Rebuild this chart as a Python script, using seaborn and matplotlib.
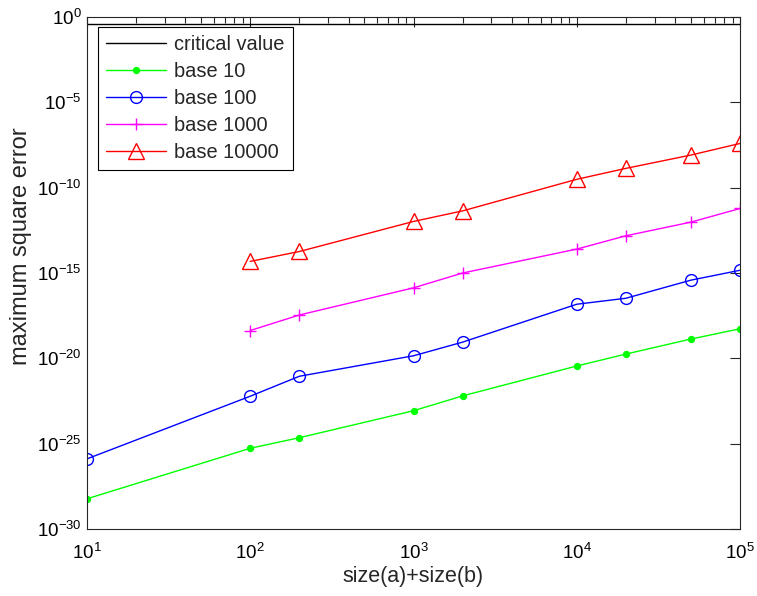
import numpy as np
import pandas as pd
import matplotlib
matplotlib.use("Agg")
import matplotlib.pyplot as plt
import matplotlib.ticker as mticker
import seaborn as sns

# ---- data ----
x_all = [10, 100, 200, 1000, 2000, 10000, 20000, 50000, 100000]
x_big = [100, 200, 1000, 2000, 10000, 20000, 50000, 100000]
critical_x = [10, 100000]
critical_value = [0.4, 0.4]
log_base10 = [-28.23, -25.27, -24.65, -23.07, -22.2, -20.45, -19.75, -18.87, -18.27]
log_base100 = [-25.89, -22.22, -21.05, -19.85, -19.05, -16.83, -16.48, -15.42, -14.84]
log_base1000 = [-18.37, -17.46, -15.87, -15.0, -13.6, -12.82, -12.02, -11.22]
log_base10000 = [-14.32, -13.74, -11.98, -11.36, -9.51, -8.87, -8.09, -7.41]
labels = ["critical value", "base 10", "base 100", "base 1000", "base 10000"]
xlabel = "size(a)+size(b)"
ylabel = "maximum square error"

sns.set_theme(style="white")
plt.rcParams["font.family"] = ["Liberation Sans", "DejaVu Sans"]
plt.rcParams["mathtext.fontset"] = "custom"
plt.rcParams["mathtext.rm"] = "Liberation Sans"
plt.rcParams["mathtext.it"] = "Liberation Sans:italic"
plt.rcParams["mathtext.bf"] = "Liberation Sans:bold"

W, H = 757, 596
L, R, T, B = 87, 740, 17, 529
fig = plt.figure(figsize=(W / 100, H / 100), dpi=100)
ax = fig.add_axes([L / W, 1 - B / H, (R - L) / W, (B - T) / H])

series = [
    (critical_x, critical_value, dict(color="black", marker=None)),
    (x_all, list(10.0 ** np.array(log_base10)), dict(color=(0, 1, 0), marker="o", markersize=4.5,
                                                    markerfacecolor=(0, 1, 0), markeredgecolor=(0, 1, 0))),
    (x_all, list(10.0 ** np.array(log_base100)), dict(color=(0, 0, 1), marker="o", markersize=8.5,
                                                     markerfacecolor="none", markeredgecolor=(0, 0, 1),
                                                     markeredgewidth=1.0)),
    (x_big, list(10.0 ** np.array(log_base1000)), dict(color=(1, 0, 1), marker="+", markersize=9,
                                                      markeredgecolor=(1, 0, 1), markeredgewidth=1.0)),
    (x_big, list(10.0 ** np.array(log_base10000)), dict(color=(1, 0, 0), marker="^", markersize=11.5,
                                                       markerfacecolor="none", markeredgecolor=(1, 0, 0),
                                                       markeredgewidth=1.0)),
]
for (xs, ys, kw), lab in zip(series, labels):
    df = pd.DataFrame({"x": xs, "y": ys})
    sns.lineplot(data=df, x="x", y="y", ax=ax, label=lab, linewidth=1.0, **kw)

ax.set_xscale("log")
ax.set_yscale("log")
ax.set_xlim(10, 1e5)
ax.set_ylim(1e-30, 1)

fmt = mticker.FuncFormatter(lambda v, p: r"$10^{%d}$" % int(round(np.log10(v))))
ax.xaxis.set_major_locator(mticker.LogLocator(base=10, numticks=10))
ax.xaxis.set_minor_locator(mticker.LogLocator(base=10, subs=np.arange(2, 10), numticks=20))
ax.xaxis.set_minor_formatter(mticker.NullFormatter())
ax.xaxis.set_major_formatter(fmt)
ax.yaxis.set_major_locator(mticker.FixedLocator([10.0 ** k for k in range(-30, 1, 5)]))
ax.yaxis.set_minor_locator(mticker.NullLocator())
ax.yaxis.set_major_formatter(fmt)

ax.tick_params(which="both", direction="in", top=True, right=True, colors="#262626",
               labelcolor="black", labelsize=13.5, width=0.8)
ax.tick_params(which="major", length=7)
ax.tick_params(which="minor", length=4)
ax.tick_params(axis="x", which="major", pad=10)
ax.tick_params(axis="y", which="major", pad=4)
for s in ax.spines.values():
    s.set_color("#262626")
    s.set_linewidth(0.8)

ax.set_xlabel(xlabel, fontsize=15.5, labelpad=2)
ax.set_ylabel(ylabel, fontsize=17)
ax.yaxis.set_label_coords(-0.084, (B - 246) / (B - T))

leg = ax.legend(loc="upper left", bbox_to_anchor=((98 - L) / (R - L), 1 - (27 - T) / (B - T)),
                borderaxespad=0, fontsize=14.4, handlelength=3.0, labelspacing=0.4,
                fancybox=False, framealpha=1, edgecolor="black", borderpad=0.4,
                handletextpad=0.42)
leg.get_frame().set_linewidth(0.8)

fig.savefig("out.png", dpi=100)
